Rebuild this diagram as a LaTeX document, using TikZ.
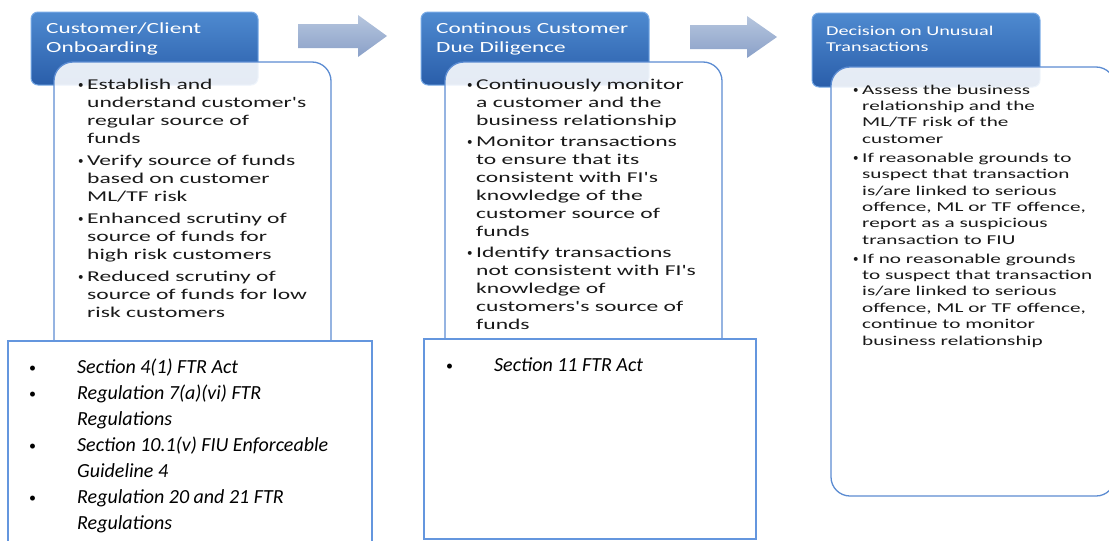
\documentclass[tikz,border=0pt]{standalone}
\usepackage{fontspec}
\setmainfont{Carlito}
\newfontfamily\hfont[FakeStretch=1.5]{Carlito}
\newfontfamily\bfont[FakeStretch=1.57]{Carlito}
\newfontfamily\plainfont{Carlito}
\definecolor{hdrtop}{RGB}{78,138,208}
\definecolor{hdrbot}{RGB}{42,94,170}
\definecolor{hdredge}{RGB}{120,170,230}
\definecolor{bodyedge}{RGB}{92,140,210}
\definecolor{refedge}{RGB}{100,150,222}
\definecolor{arrtop}{RGB}{182,198,222}
\definecolor{arrbot}{RGB}{138,160,200}
\definecolor{txt}{RGB}{25,25,25}
\newcommand{\bi}{\makebox[9pt][l]{\raisebox{0.6pt}{\plainfont\fontsize{11}{11}\selectfont\textbullet}}}
\newcommand{\bc}{\hspace*{9pt}}
\newcommand{\ri}{\makebox[49pt][l]{\hspace*{1pt}\raisebox{0.5pt}{\upshape\plainfont\fontsize{14}{14}\selectfont\textbullet}}}
\newcommand{\rc}{\hspace*{49pt}}
\begin{document}
\begin{tikzpicture}[x=1pt,y=-1pt,
  hdr/.style={draw=hdredge, line width=1pt, rounded corners=7pt, top color=hdrtop, bottom color=hdrbot},
  bodybox/.style={draw=bodyedge, line width=1.3pt, rounded corners=19pt, fill=white, fill opacity=0.88, draw opacity=1},
  refbox/.style={draw=refedge, line width=1.8pt, fill=white},
  blockarrow/.style={top color=arrtop, bottom color=arrbot, draw=none},
  htxt/.style={anchor=north west, inner sep=0pt, align=left, text=white},
  btxt/.style={anchor=north west, inner sep=0pt, align=left, text=txt},
  rtxt/.style={anchor=north west, inner sep=0pt, align=left, text=black, font=\itshape\fontsize{20}{26}\selectfont}
]
\useasboundingbox (0,0) rectangle (1109,541);
\clip (0,0) rectangle (1109,541);

% arrows
\path[blockarrow] (298,24) -- (358,24) -- (358,15) -- (387,36) -- (358,57) -- (358,48) -- (298,48) -- cycle;
\path[blockarrow] (690,25) -- (747,25) -- (747,16) -- (777,37) -- (747,58) -- (747,49) -- (690,49) -- cycle;

% column 1
\path[hdr] (31,12) rectangle (258,85);
\node[htxt, font=\hfont\fontsize{15.5}{19}\selectfont] (h1) at (46,19.7) {\strut Customer/Client\\Onboarding};
\path[bodybox] (54,62) rectangle (331,380);
\node[btxt, font=\bfont\fontsize{15}{18}\selectfont] (t1) at (78,76.4) {\strut\bi Establish and\\
\bc understand customer's\\
\bc regular source of\\
\bc funds\\[4pt]
\bi Verify source of funds\\
\bc based on customer\\
\bc ML/TF risk\\[4pt]
\bi Enhanced scrutiny of\\
\bc source of funds for\\
\bc high risk customers\\[4pt]
\bi Reduced scrutiny of\\
\bc source of funds for low\\
\bc risk customers};
\path[refbox] (8,341) rectangle (372,545);
\node[rtxt] (r1) at (28,354.8) {\strut\ri Section 4(1) FTR Act\\
\ri Regulation 7(a)(vi) FTR\\
\rc Regulations\\
\ri Section 10.1(v) FIU Enforceable\\
\rc Guideline 4\\
\ri Regulation 20 and 21 FTR\\
\rc Regulations};

% column 2
\path[hdr] (421,12) rectangle (649,85);
\node[htxt, font=\hfont\fontsize{15.5}{19}\selectfont] (h2) at (436,19.7) {\strut Continous Customer\\Due Diligence};
\path[bodybox] (445,62) rectangle (722,380);
\node[btxt, font=\bfont\fontsize{15}{18}\selectfont] (t2) at (467,76.4) {\strut\bi Continuously monitor\\
\bc a customer and the\\
\bc business relationship\\[3pt]
\bi Monitor transactions\\
\bc to ensure that its\\
\bc consistent with FI's\\
\bc knowledge of the\\
\bc customer source of\\
\bc funds\\[3pt]
\bi Identify transactions\\
\bc not consistent with FI's\\
\bc knowledge of\\
\bc customers's source of\\
\bc funds};
\path[refbox] (424,339) rectangle (756,539);
\node[rtxt] (r2) at (445,352.8) {\strut\ri Section 11 FTR Act};

% column 3
\path[hdr] (812,13) rectangle (1040,87);
\node[htxt, font=\hfont\fontsize{13.5}{16}\selectfont] (h3) at (826,23.8) {\strut Decision on Unusual\\Transactions};
\path[bodybox] (831,67) rectangle (1115,496);
\node[btxt, font=\bfont\fontsize{13.5}{16.4}\selectfont] (t3) at (853,82.5) {\strut\bi Assess the business\\
\bc relationship and the\\
\bc ML/TF risk of the\\
\bc customer\\[2.5pt]
\bi If reasonable grounds to\\
\bc suspect that transaction\\
\bc is/are linked to serious\\
\bc offence, ML or TF offence,\\
\bc report as a suspicious\\
\bc transaction to FIU\\[2.5pt]
\bi If no reasonable grounds\\
\bc to suspect that transaction\\
\bc is/are linked to serious\\
\bc offence, ML or TF offence,\\
\bc continue to monitor\\
\bc business relationship};
\end{tikzpicture}
\end{document}
